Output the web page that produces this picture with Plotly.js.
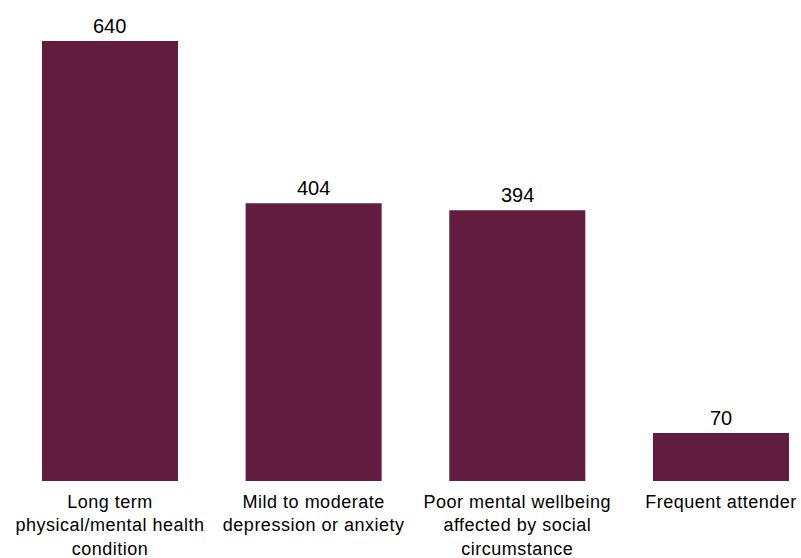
<!DOCTYPE html>
<html>
<head>
<meta charset="utf-8">
<script src="https://cdn.plot.ly/plotly-3.0.1.min.js"></script>
<style>
html,body{margin:0;padding:0;background:#fff;}
#chart{width:801px;height:558px;}
#chart .xtick text{letter-spacing:0.5px;}
</style>
</head>
<body>
<div id="chart"></div>
<script>
const categories = [
  "Long term<br>physical/mental health<br>condition",
  "Mild to moderate<br>depression or anxiety",
  "Poor mental wellbeing<br>affected by social<br>circumstance",
  "Frequent attender"
];
const values = [640, 404, 394, 70];
const barColor = "#621C40";
const fontFamily = "Arial, 'Liberation Sans', sans-serif";

const trace = {
  type: "bar",
  x: categories,
  y: values,
  marker: {color: barColor},
  hoverinfo: "none"
};

const annotations = categories.map((c, i) => ({
  x: c, y: values[i], xref: "x", yref: "y",
  text: String(values[i]), showarrow: false,
  yanchor: "bottom", yshift: 2,
  font: {family: fontFamily, size: 20, color: "#000"}
}));

const layout = {
  width: 801, height: 558,
  margin: {l: 0, r: 0, t: 27, b: 77, pad: 0},
  paper_bgcolor: "#fff", plot_bgcolor: "#fff",
  bargap: 0.332,
  showlegend: false,
  font: {family: fontFamily, size: 20, color: "#000"},
  xaxis: {
    type: "category",
    range: [-0.540, 3.393],
    showgrid: false, zeroline: false, showline: false, ticks: "",
    ticklabelstandoff: 8,
    tickfont: {family: fontFamily, size: 18, color: "#000"},
    fixedrange: true
  },
  yaxis: {
    range: [0, 660.4],
    visible: false,
    showgrid: false, zeroline: false, fixedrange: true
  },
  annotations: annotations
};

Plotly.newPlot("chart", [trace], layout, {displayModeBar: false, staticPlot: true});
</script>
</body>
</html>
